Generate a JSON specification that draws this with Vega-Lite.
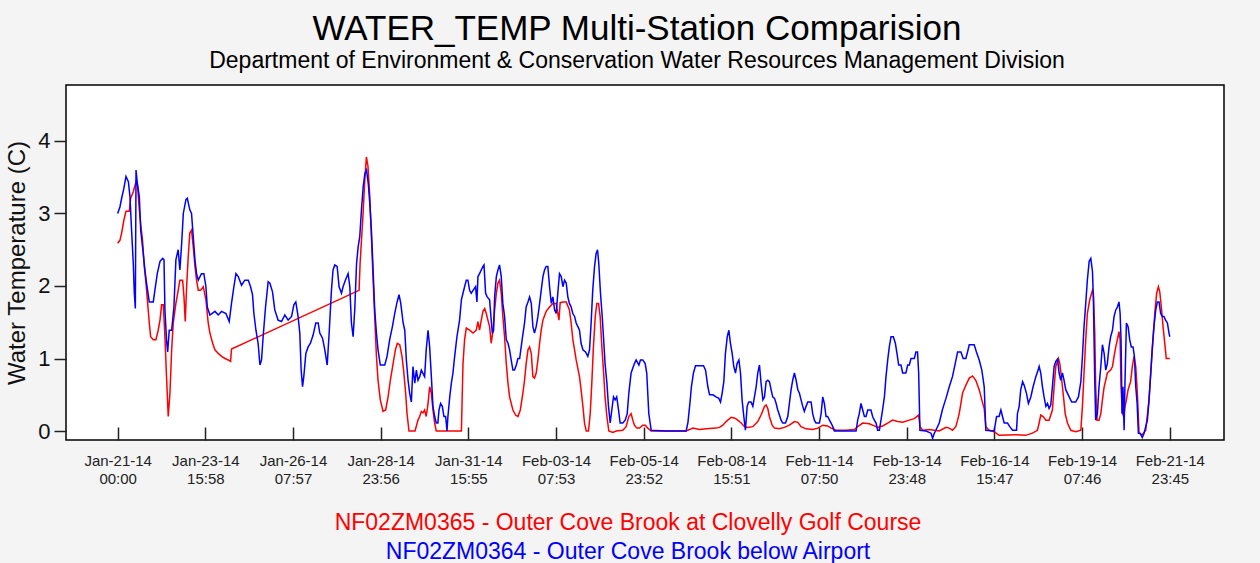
{
"$schema": "https://vega.github.io/schema/vega-lite/v6.json",
"width": 1158,
"height": 355,
"autosize": {"type": "none"},
"padding": {"left": 66, "top": 85, "right": 36, "bottom": 123},
"background": "#f4f4f4",
"title": {"text": "WATER_TEMP Multi-Station Comparision", "subtitle": "Department of Environment & Conservation Water Resources Management Division", "fontSize": 35, "subtitleFontSize": 23, "font": "Liberation Sans", "subtitleFont": "Liberation Sans", "fontWeight": "normal", "color": "#000000", "subtitleColor": "#000000", "anchor": "middle", "frame": "group", "offset": 12, "subtitlePadding": 3, "dx": -8},
"config": {"view": {"fill": "#ffffff", "stroke": "#000000", "strokeWidth": 1.5}, "font": "Liberation Sans"},
"datasets": {
"red": [
{"t":"2014-01-21T00:00Z","v":2.59},{"t":"2014-01-21T01:40Z","v":2.63},{"t":"2014-01-21T02:55Z","v":2.73},{"t":"2014-01-21T04:35Z","v":2.91},{"t":"2014-01-21T06:05Z","v":3.03},{"t":"2014-01-21T08:30Z","v":3.03},{"t":"2014-01-21T09:30Z","v":3.21},{"t":"2014-01-21T11:25Z","v":3.30},{"t":"2014-01-21T13:25Z","v":3.44},{"t":"2014-01-21T14:20Z","v":3.42},{"t":"2014-01-21T15:50Z","v":3.05},{"t":"2014-01-21T17:00Z","v":2.82},{"t":"2014-01-21T18:10Z","v":2.63},{"t":"2014-01-21T19:25Z","v":2.27},{"t":"2014-01-21T20:40Z","v":2.04},{"t":"2014-01-21T21:55Z","v":1.76},{"t":"2014-01-21T23:05Z","v":1.49},
{"t":"2014-01-22T00:05Z","v":1.30},{"t":"2014-01-22T02:00Z","v":1.26},{"t":"2014-01-22T03:55Z","v":1.26},{"t":"2014-01-22T05:35Z","v":1.39},{"t":"2014-01-22T06:55Z","v":1.53},{"t":"2014-01-22T08:05Z","v":1.74},{"t":"2014-01-22T09:20Z","v":1.74},{"t":"2014-01-22T10:30Z","v":1.30},{"t":"2014-01-22T11:40Z","v":0.75},{"t":"2014-01-22T12:55Z","v":0.20},{"t":"2014-01-22T14:10Z","v":0.52},{"t":"2014-01-22T15:25Z","v":1.12},{"t":"2014-01-22T16:35Z","v":1.49},{"t":"2014-01-22T18:30Z","v":1.76},{"t":"2014-01-22T20:10Z","v":1.94},{"t":"2014-01-22T21:25Z","v":2.08},{"t":"2014-01-22T23:25Z","v":2.08},
{"t":"2014-01-23T00:25Z","v":1.85},{"t":"2014-01-23T01:20Z","v":1.51},{"t":"2014-01-23T02:20Z","v":1.99},{"t":"2014-01-23T03:30Z","v":2.40},{"t":"2014-01-23T04:40Z","v":2.73},{"t":"2014-01-23T05:55Z","v":2.77},{"t":"2014-01-23T07:10Z","v":2.54},{"t":"2014-01-23T08:25Z","v":2.27},{"t":"2014-01-23T09:35Z","v":2.08},{"t":"2014-01-23T10:50Z","v":1.94},{"t":"2014-01-23T12:30Z","v":1.94},{"t":"2014-01-23T14:30Z","v":1.99},{"t":"2014-01-23T16:25Z","v":1.81},{"t":"2014-01-23T18:05Z","v":1.49},{"t":"2014-01-23T19:20Z","v":1.35},{"t":"2014-01-23T21:20Z","v":1.21},{"t":"2014-01-23T23:00Z","v":1.12},
{"t":"2014-01-24T01:25Z","v":1.07},{"t":"2014-01-24T03:50Z","v":1.03},{"t":"2014-01-24T06:20Z","v":1.00},{"t":"2014-01-24T08:40Z","v":0.98},{"t":"2014-01-24T10:25Z","v":0.96},{"t":"2014-01-24T11:05Z","v":1.13},
{"t":"2014-01-28T08:10Z","v":1.94},{"t":"2014-01-28T08:55Z","v":2.31},{"t":"2014-01-28T09:55Z","v":2.63},{"t":"2014-01-28T11:05Z","v":3.00},{"t":"2014-01-28T12:20Z","v":3.46},{"t":"2014-01-28T13:30Z","v":3.78},{"t":"2014-01-28T14:40Z","v":3.65},{"t":"2014-01-28T16:00Z","v":3.23},{"t":"2014-01-28T17:10Z","v":2.68},{"t":"2014-01-28T18:25Z","v":2.08},{"t":"2014-01-28T19:35Z","v":1.58},{"t":"2014-01-28T20:50Z","v":1.03},{"t":"2014-01-28T22:00Z","v":0.70},{"t":"2014-01-28T23:40Z","v":0.43},
{"t":"2014-01-29T01:40Z","v":0.27},{"t":"2014-01-29T03:35Z","v":0.29},{"t":"2014-01-29T05:20Z","v":0.47},{"t":"2014-01-29T07:00Z","v":0.70},{"t":"2014-01-29T09:00Z","v":0.93},{"t":"2014-01-29T10:40Z","v":1.12},{"t":"2014-01-29T12:05Z","v":1.21},{"t":"2014-01-29T13:50Z","v":1.19},{"t":"2014-01-29T15:30Z","v":1.03},{"t":"2014-01-29T16:40Z","v":0.84},{"t":"2014-01-29T18:10Z","v":0.52},{"t":"2014-01-29T19:10Z","v":0.24},{"t":"2014-01-29T20:35Z","v":0.0},
{"t":"2014-01-30T01:00Z","v":0.0},{"t":"2014-01-30T03:10Z","v":0.15},{"t":"2014-01-30T04:25Z","v":0.2},{"t":"2014-01-30T05:35Z","v":0.27},{"t":"2014-01-30T06:50Z","v":0.25},{"t":"2014-01-30T08:00Z","v":0.29},{"t":"2014-01-30T09:10Z","v":0.2},{"t":"2014-01-30T10:30Z","v":0.38},{"t":"2014-01-30T11:40Z","v":0.61},{"t":"2014-01-30T12:55Z","v":0.52},{"t":"2014-01-30T14:05Z","v":0.29},{"t":"2014-01-30T15:20Z","v":0.11},{"t":"2014-01-30T16:30Z","v":0.0},
{"t":"2014-01-31T10:50Z","v":0.0},{"t":"2014-01-31T12:00Z","v":0.93},{"t":"2014-01-31T13:10Z","v":1.26},{"t":"2014-01-31T14:25Z","v":1.42},{"t":"2014-01-31T16:50Z","v":1.39},{"t":"2014-01-31T19:20Z","v":1.35},{"t":"2014-01-31T21:40Z","v":1.39},{"t":"2014-01-31T22:55Z","v":1.51},
{"t":"2014-02-01T00:05Z","v":1.39},{"t":"2014-02-01T01:20Z","v":1.53},{"t":"2014-02-01T02:35Z","v":1.65},{"t":"2014-02-01T03:50Z","v":1.69},{"t":"2014-02-01T05:00Z","v":1.62},{"t":"2014-02-01T06:10Z","v":1.53},{"t":"2014-02-01T07:25Z","v":1.44},{"t":"2014-02-01T08:35Z","v":1.21},{"t":"2014-02-01T09:55Z","v":1.39},{"t":"2014-02-01T11:05Z","v":1.67},{"t":"2014-02-01T12:20Z","v":1.90},{"t":"2014-02-01T13:30Z","v":2.04},{"t":"2014-02-01T14:40Z","v":2.08},{"t":"2014-02-01T15:55Z","v":1.90},{"t":"2014-02-01T17:05Z","v":1.58},{"t":"2014-02-01T18:20Z","v":1.30},{"t":"2014-02-01T19:35Z","v":0.93},{"t":"2014-02-01T20:50Z","v":0.66},{"t":"2014-02-01T22:00Z","v":0.47},
{"t":"2014-02-02T00:25Z","v":0.29},{"t":"2014-02-02T02:25Z","v":0.22},{"t":"2014-02-02T04:05Z","v":0.2},{"t":"2014-02-02T05:50Z","v":0.29},{"t":"2014-02-02T07:40Z","v":0.52},{"t":"2014-02-02T08:55Z","v":0.70},{"t":"2014-02-02T10:05Z","v":0.93},{"t":"2014-02-02T11:25Z","v":1.12},{"t":"2014-02-02T12:35Z","v":1.16},{"t":"2014-02-02T13:50Z","v":1.07},{"t":"2014-02-02T15:00Z","v":0.75},{"t":"2014-02-02T16:10Z","v":0.73},{"t":"2014-02-02T17:25Z","v":0.8},{"t":"2014-02-02T18:40Z","v":0.98},{"t":"2014-02-02T19:55Z","v":1.21},{"t":"2014-02-02T21:05Z","v":1.39},{"t":"2014-02-02T22:20Z","v":1.53},
{"t":"2014-02-03T00:40Z","v":1.65},{"t":"2014-02-03T03:10Z","v":1.71},{"t":"2014-02-03T05:35Z","v":1.76},{"t":"2014-02-03T08:00Z","v":1.76},{"t":"2014-02-03T10:00Z","v":1.53},{"t":"2014-02-03T10:55Z","v":1.77},{"t":"2014-02-03T12:55Z","v":1.78},{"t":"2014-02-03T15:20Z","v":1.78},{"t":"2014-02-03T17:40Z","v":1.67},{"t":"2014-02-03T18:55Z","v":1.49},{"t":"2014-02-03T20:10Z","v":1.26},{"t":"2014-02-03T21:25Z","v":1.12},{"t":"2014-02-03T22:35Z","v":0.98},
{"t":"2014-02-04T01:00Z","v":0.75},{"t":"2014-02-04T02:10Z","v":0.57},{"t":"2014-02-04T03:30Z","v":0.34},{"t":"2014-02-04T04:40Z","v":0.11},{"t":"2014-02-04T05:55Z","v":0.0},{"t":"2014-02-04T07:35Z","v":0.0},{"t":"2014-02-04T08:50Z","v":0.24},{"t":"2014-02-04T10:00Z","v":0.66},{"t":"2014-02-04T11:10Z","v":1.16},{"t":"2014-02-04T12:30Z","v":1.58},{"t":"2014-02-04T13:40Z","v":1.76},{"t":"2014-02-04T14:55Z","v":1.76},{"t":"2014-02-04T16:05Z","v":1.58},{"t":"2014-02-04T17:20Z","v":1.16},{"t":"2014-02-04T18:30Z","v":0.84},{"t":"2014-02-04T19:40Z","v":0.47},{"t":"2014-02-04T21:00Z","v":0.2},{"t":"2014-02-04T22:25Z","v":0.0},
{"t":"2014-02-05T01:20Z","v":-0.02},{"t":"2014-02-05T03:50Z","v":0.0},{"t":"2014-02-05T08:35Z","v":0.01},{"t":"2014-02-05T11:00Z","v":0.06},{"t":"2014-02-05T13:00Z","v":0.2},{"t":"2014-02-05T14:40Z","v":0.24},{"t":"2014-02-05T15:55Z","v":0.15},{"t":"2014-02-05T17:05Z","v":0.08},{"t":"2014-02-05T18:50Z","v":0.04},{"t":"2014-02-05T20:50Z","v":0.04},{"t":"2014-02-05T23:10Z","v":0.08},
{"t":"2014-02-06T01:05Z","v":0.08},{"t":"2014-02-06T02:50Z","v":0.04},{"t":"2014-02-06T05:20Z","v":0.0},{"t":"2014-02-06T16:10Z","v":0.0},
{"t":"2014-02-07T06:50Z","v":0.0},{"t":"2014-02-07T09:20Z","v":0.02},{"t":"2014-02-07T11:40Z","v":0.04},{"t":"2014-02-07T16:35Z","v":0.02},{"t":"2014-02-07T21:25Z","v":0.03},
{"t":"2014-02-08T04:40Z","v":0.04},{"t":"2014-02-08T07:10Z","v":0.05},{"t":"2014-02-08T09:35Z","v":0.08},{"t":"2014-02-08T12:00Z","v":0.13},{"t":"2014-02-08T15:40Z","v":0.19},{"t":"2014-02-08T18:05Z","v":0.18},{"t":"2014-02-08T20:30Z","v":0.15},{"t":"2014-02-08T23:00Z","v":0.11},
{"t":"2014-02-09T01:25Z","v":0.06},{"t":"2014-02-09T03:50Z","v":0.05},{"t":"2014-02-09T07:30Z","v":0.06},{"t":"2014-02-09T11:05Z","v":0.13},{"t":"2014-02-09T13:30Z","v":0.22},{"t":"2014-02-09T16:00Z","v":0.34},{"t":"2014-02-09T17:10Z","v":0.36},{"t":"2014-02-09T18:25Z","v":0.31},{"t":"2014-02-09T19:35Z","v":0.2},{"t":"2014-02-09T21:35Z","v":0.08},{"t":"2014-02-09T23:20Z","v":0.04},
{"t":"2014-02-10T02:55Z","v":0.03},{"t":"2014-02-10T06:30Z","v":0.05},{"t":"2014-02-10T10:10Z","v":0.08},{"t":"2014-02-10T13:50Z","v":0.13},{"t":"2014-02-10T16:20Z","v":0.12},{"t":"2014-02-10T18:40Z","v":0.06},{"t":"2014-02-10T22:20Z","v":0.03},
{"t":"2014-02-11T03:10Z","v":0.02},{"t":"2014-02-11T06:55Z","v":0.04},{"t":"2014-02-11T10:30Z","v":0.08},{"t":"2014-02-11T14:05Z","v":0.07},{"t":"2014-02-11T16:35Z","v":0.04},{"t":"2014-02-11T20:10Z","v":0.01},
{"t":"2014-02-12T03:30Z","v":0.01},{"t":"2014-02-12T09:35Z","v":0.02},{"t":"2014-02-12T12:00Z","v":0.06},{"t":"2014-02-12T15:40Z","v":0.11},{"t":"2014-02-12T20:30Z","v":0.1},
{"t":"2014-02-13T00:10Z","v":0.07},{"t":"2014-02-13T02:35Z","v":0.05},{"t":"2014-02-13T06:10Z","v":0.07},{"t":"2014-02-13T09:55Z","v":0.11},{"t":"2014-02-13T13:30Z","v":0.15},{"t":"2014-02-13T17:10Z","v":0.13},{"t":"2014-02-13T20:50Z","v":0.12},
{"t":"2014-02-14T01:40Z","v":0.15},{"t":"2014-02-14T05:20Z","v":0.17},{"t":"2014-02-14T08:30Z","v":0.22},{"t":"2014-02-14T09:30Z","v":0.06},{"t":"2014-02-14T11:25Z","v":0.01},{"t":"2014-02-14T16:20Z","v":0.02},{"t":"2014-02-14T23:30Z","v":0.0},
{"t":"2014-02-15T04:25Z","v":0.05},{"t":"2014-02-15T06:50Z","v":0.04},{"t":"2014-02-15T09:10Z","v":0.01},{"t":"2014-02-15T11:35Z","v":0.06},{"t":"2014-02-15T12:55Z","v":0.15},{"t":"2014-02-15T14:05Z","v":0.24},{"t":"2014-02-15T15:20Z","v":0.38},{"t":"2014-02-15T16:30Z","v":0.52},{"t":"2014-02-15T18:55Z","v":0.63},{"t":"2014-02-15T21:25Z","v":0.73},{"t":"2014-02-15T23:50Z","v":0.76},
{"t":"2014-02-16T02:10Z","v":0.70},{"t":"2014-02-16T04:40Z","v":0.57},{"t":"2014-02-16T06:35Z","v":0.43},{"t":"2014-02-16T08:20Z","v":0.31},{"t":"2014-02-16T09:30Z","v":0.06},{"t":"2014-02-16T11:55Z","v":0.01},{"t":"2014-02-16T15:35Z","v":-0.01},{"t":"2014-02-16T19:10Z","v":-0.06},
{"t":"2014-02-17T07:25Z","v":-0.05},{"t":"2014-02-17T14:40Z","v":-0.06},{"t":"2014-02-17T19:30Z","v":-0.03},{"t":"2014-02-17T23:10Z","v":0.01},
{"t":"2014-02-18T00:25Z","v":0.11},{"t":"2014-02-18T01:35Z","v":0.22},{"t":"2014-02-18T03:20Z","v":0.2},{"t":"2014-02-18T05:20Z","v":0.15},{"t":"2014-02-18T07:40Z","v":0.15},{"t":"2014-02-18T10:05Z","v":0.29},{"t":"2014-02-18T11:20Z","v":0.61},{"t":"2014-02-18T12:35Z","v":0.89},{"t":"2014-02-18T14:30Z","v":1.0},{"t":"2014-02-18T15:30Z","v":0.93},{"t":"2014-02-18T16:55Z","v":0.70},{"t":"2014-02-18T17:55Z","v":0.52},{"t":"2014-02-18T19:25Z","v":0.24},{"t":"2014-02-18T21:05Z","v":0.11},{"t":"2014-02-18T23:30Z","v":0.01},
{"t":"2014-02-19T03:05Z","v":-0.01},{"t":"2014-02-19T06:50Z","v":0.01},{"t":"2014-02-19T08:00Z","v":0.34},{"t":"2014-02-19T09:10Z","v":0.80},{"t":"2014-02-19T10:25Z","v":1.26},{"t":"2014-02-19T11:35Z","v":1.62},{"t":"2014-02-19T13:20Z","v":1.81},{"t":"2014-02-19T15:20Z","v":1.94},{"t":"2014-02-19T16:00Z","v":1.9},{"t":"2014-02-19T17:00Z","v":1.35},{"t":"2014-02-19T17:40Z","v":0.61},{"t":"2014-02-19T18:40Z","v":0.15},{"t":"2014-02-19T20:05Z","v":0.15},{"t":"2014-02-19T21:25Z","v":0.24},{"t":"2014-02-19T22:35Z","v":0.43},{"t":"2014-02-19T23:50Z","v":0.61},
{"t":"2014-02-20T01:00Z","v":0.70},{"t":"2014-02-20T02:10Z","v":0.80},{"t":"2014-02-20T04:35Z","v":0.84},{"t":"2014-02-20T05:55Z","v":0.89},{"t":"2014-02-20T07:05Z","v":1.03},{"t":"2014-02-20T08:20Z","v":1.16},{"t":"2014-02-20T09:30Z","v":1.26},{"t":"2014-02-20T10:40Z","v":1.37},{"t":"2014-02-20T11:30Z","v":1.26},{"t":"2014-02-20T12:10Z","v":0.61},{"t":"2014-02-20T13:10Z","v":0.24},{"t":"2014-02-20T14:05Z","v":0.2},{"t":"2014-02-20T15:05Z","v":0.34},{"t":"2014-02-20T16:05Z","v":0.43},{"t":"2014-02-20T17:20Z","v":0.57},{"t":"2014-02-20T19:10Z","v":0.68},{"t":"2014-02-20T20:25Z","v":0.89},{"t":"2014-02-20T21:40Z","v":1.03},{"t":"2014-02-20T22:55Z","v":0.89},
{"t":"2014-02-21T00:05Z","v":0.52},{"t":"2014-02-21T01:20Z","v":-0.03},{"t":"2014-02-21T03:40Z","v":-0.05},{"t":"2014-02-21T06:10Z","v":0.01},{"t":"2014-02-21T08:35Z","v":0.43},{"t":"2014-02-21T10:30Z","v":0.98},{"t":"2014-02-21T11:50Z","v":1.35},{"t":"2014-02-21T13:00Z","v":1.67},{"t":"2014-02-21T14:10Z","v":1.90},{"t":"2014-02-21T15:25Z","v":1.99},{"t":"2014-02-21T16:25Z","v":1.92},{"t":"2014-02-21T17:35Z","v":1.71},{"t":"2014-02-21T18:50Z","v":1.44},{"t":"2014-02-21T20:20Z","v":1.16},{"t":"2014-02-21T21:10Z","v":1.0},{"t":"2014-02-21T23:45Z","v":1.0}
],
"blue": [
{"t":"2014-01-21T00:00Z","v":3.0},{"t":"2014-01-21T01:40Z","v":3.09},{"t":"2014-01-21T02:55Z","v":3.21},{"t":"2014-01-21T04:35Z","v":3.35},{"t":"2014-01-21T06:05Z","v":3.51},{"t":"2014-01-21T07:50Z","v":3.44},{"t":"2014-01-21T09:00Z","v":3.23},{"t":"2014-01-21T10:10Z","v":2.77},{"t":"2014-01-21T11:25Z","v":2.31},{"t":"2014-01-21T12:10Z","v":1.90},{"t":"2014-01-21T12:55Z","v":1.69},{"t":"2014-01-21T13:25Z","v":3.6},{"t":"2014-01-21T14:20Z","v":3.42},{"t":"2014-01-21T15:50Z","v":3.23},{"t":"2014-01-21T16:50Z","v":2.77},{"t":"2014-01-21T18:10Z","v":2.54},{"t":"2014-01-21T19:55Z","v":2.22},{"t":"2014-01-21T21:05Z","v":2.04},{"t":"2014-01-21T23:05Z","v":1.78},
{"t":"2014-01-22T02:00Z","v":1.78},{"t":"2014-01-22T03:10Z","v":1.94},{"t":"2014-01-22T04:55Z","v":2.17},{"t":"2014-01-22T06:55Z","v":2.34},{"t":"2014-01-22T08:50Z","v":2.38},{"t":"2014-01-22T09:50Z","v":2.36},{"t":"2014-01-22T10:30Z","v":1.67},{"t":"2014-01-22T11:40Z","v":1.26},{"t":"2014-01-22T12:30Z","v":1.09},{"t":"2014-01-22T13:40Z","v":1.39},{"t":"2014-01-22T15:25Z","v":1.39},{"t":"2014-01-22T17:05Z","v":1.71},{"t":"2014-01-22T18:30Z","v":2.36},{"t":"2014-01-22T20:10Z","v":2.5},{"t":"2014-01-22T21:25Z","v":2.22},{"t":"2014-01-22T22:40Z","v":2.57},{"t":"2014-01-22T23:55Z","v":3.0},
{"t":"2014-01-23T01:50Z","v":3.19},{"t":"2014-01-23T02:50Z","v":3.21},{"t":"2014-01-23T04:40Z","v":3.05},{"t":"2014-01-23T05:55Z","v":3.0},{"t":"2014-01-23T07:10Z","v":2.68},{"t":"2014-01-23T08:25Z","v":2.36},{"t":"2014-01-23T09:35Z","v":2.17},{"t":"2014-01-23T10:50Z","v":2.08},{"t":"2014-01-23T13:10Z","v":2.17},{"t":"2014-01-23T14:55Z","v":2.17},{"t":"2014-01-23T16:25Z","v":1.99},{"t":"2014-01-23T17:25Z","v":1.71},{"t":"2014-01-23T19:20Z","v":1.6},{"t":"2014-01-23T23:00Z","v":1.65},
{"t":"2014-01-24T01:25Z","v":1.6},{"t":"2014-01-24T03:50Z","v":1.65},{"t":"2014-01-24T07:00Z","v":1.62},{"t":"2014-01-24T09:25Z","v":1.51},{"t":"2014-01-24T11:05Z","v":1.76},{"t":"2014-01-24T12:50Z","v":1.99},{"t":"2014-01-24T14:20Z","v":2.17},{"t":"2014-01-24T16:00Z","v":2.13},{"t":"2014-01-24T18:25Z","v":2.01},{"t":"2014-01-24T20:50Z","v":2.08},{"t":"2014-01-24T23:20Z","v":2.08},
{"t":"2014-01-25T01:00Z","v":1.99},{"t":"2014-01-25T02:25Z","v":1.88},{"t":"2014-01-25T03:25Z","v":1.62},{"t":"2014-01-25T04:55Z","v":1.39},{"t":"2014-01-25T06:30Z","v":1.21},{"t":"2014-01-25T07:50Z","v":0.91},{"t":"2014-01-25T09:00Z","v":0.98},{"t":"2014-01-25T10:10Z","v":1.30},{"t":"2014-01-25T11:55Z","v":1.71},{"t":"2014-01-25T13:50Z","v":2.06},{"t":"2014-01-25T15:05Z","v":2.04},{"t":"2014-01-25T17:00Z","v":1.92},{"t":"2014-01-25T18:40Z","v":1.67},{"t":"2014-01-25T21:05Z","v":1.53},{"t":"2014-01-25T23:35Z","v":1.51},
{"t":"2014-01-26T02:00Z","v":1.6},{"t":"2014-01-26T04:25Z","v":1.53},{"t":"2014-01-26T06:55Z","v":1.58},{"t":"2014-01-26T08:35Z","v":1.74},{"t":"2014-01-26T10:00Z","v":1.78},{"t":"2014-01-26T11:40Z","v":1.58},{"t":"2014-01-26T12:55Z","v":1.35},{"t":"2014-01-26T13:55Z","v":0.84},{"t":"2014-01-26T14:55Z","v":0.61},{"t":"2014-01-26T15:50Z","v":0.75},{"t":"2014-01-26T17:20Z","v":1.07},{"t":"2014-01-26T19:00Z","v":1.16},{"t":"2014-01-26T20:40Z","v":1.21},{"t":"2014-01-26T22:35Z","v":1.32},
{"t":"2014-01-27T00:35Z","v":1.49},{"t":"2014-01-27T02:20Z","v":1.49},{"t":"2014-01-27T03:30Z","v":1.35},{"t":"2014-01-27T05:30Z","v":1.28},{"t":"2014-01-27T07:10Z","v":1.12},{"t":"2014-01-27T08:55Z","v":0.91},{"t":"2014-01-27T10:20Z","v":1.35},{"t":"2014-01-27T12:00Z","v":1.94},{"t":"2014-01-27T13:10Z","v":2.22},{"t":"2014-01-27T14:25Z","v":2.29},{"t":"2014-01-27T16:10Z","v":2.27},{"t":"2014-01-27T17:35Z","v":1.99},{"t":"2014-01-27T19:20Z","v":1.90},{"t":"2014-01-27T20:30Z","v":1.99},{"t":"2014-01-27T22:10Z","v":2.08},
{"t":"2014-01-28T00:10Z","v":2.17},{"t":"2014-01-28T01:25Z","v":1.99},{"t":"2014-01-28T02:35Z","v":1.49},{"t":"2014-01-28T03:50Z","v":1.30},{"t":"2014-01-28T05:00Z","v":1.67},{"t":"2014-01-28T06:20Z","v":2.31},{"t":"2014-01-28T07:30Z","v":2.54},{"t":"2014-01-28T08:40Z","v":2.68},{"t":"2014-01-28T09:55Z","v":3.05},{"t":"2014-01-28T11:10Z","v":3.37},{"t":"2014-01-28T12:25Z","v":3.55},{"t":"2014-01-28T13:35Z","v":3.6},{"t":"2014-01-28T14:50Z","v":3.42},{"t":"2014-01-28T16:00Z","v":3.14},{"t":"2014-01-28T17:10Z","v":2.77},{"t":"2014-01-28T18:25Z","v":2.22},{"t":"2014-01-28T19:35Z","v":1.67},{"t":"2014-01-28T20:50Z","v":1.35},{"t":"2014-01-28T22:00Z","v":1.12},{"t":"2014-01-28T23:40Z","v":0.91},
{"t":"2014-01-29T02:55Z","v":0.91},{"t":"2014-01-29T04:35Z","v":1.03},{"t":"2014-01-29T06:30Z","v":1.26},{"t":"2014-01-29T08:30Z","v":1.44},{"t":"2014-01-29T10:10Z","v":1.62},{"t":"2014-01-29T11:55Z","v":1.78},{"t":"2014-01-29T13:20Z","v":1.88},{"t":"2014-01-29T14:35Z","v":1.76},{"t":"2014-01-29T16:20Z","v":1.49},{"t":"2014-01-29T17:30Z","v":1.39},{"t":"2014-01-29T18:40Z","v":0.98},{"t":"2014-01-29T19:55Z","v":0.70},{"t":"2014-01-29T21:05Z","v":0.52},{"t":"2014-01-29T22:20Z","v":0.40},{"t":"2014-01-29T23:30Z","v":0.89},
{"t":"2014-01-30T00:50Z","v":0.66},{"t":"2014-01-30T02:00Z","v":0.84},{"t":"2014-01-30T03:10Z","v":0.70},{"t":"2014-01-30T04:25Z","v":0.75},{"t":"2014-01-30T05:35Z","v":0.84},{"t":"2014-01-30T08:00Z","v":0.75},{"t":"2014-01-30T09:10Z","v":1.12},{"t":"2014-01-30T10:30Z","v":1.39},{"t":"2014-01-30T11:40Z","v":1.16},{"t":"2014-01-30T12:55Z","v":0.75},{"t":"2014-01-30T14:05Z","v":0.34},{"t":"2014-01-30T15:20Z","v":0.2},{"t":"2014-01-30T16:30Z","v":0.11},{"t":"2014-01-30T17:40Z","v":0.11},{"t":"2014-01-30T18:30Z","v":0.29},{"t":"2014-01-30T19:40Z","v":0.38},{"t":"2014-01-30T20:55Z","v":0.34},{"t":"2014-01-30T22:05Z","v":0.2},{"t":"2014-01-30T23:20Z","v":0.2},
{"t":"2014-01-31T00:20Z","v":0.0},{"t":"2014-01-31T01:00Z","v":0.2},{"t":"2014-01-31T02:20Z","v":0.47},{"t":"2014-01-31T03:30Z","v":0.66},{"t":"2014-01-31T04:40Z","v":0.8},{"t":"2014-01-31T05:55Z","v":1.03},{"t":"2014-01-31T07:35Z","v":1.3},{"t":"2014-01-31T09:30Z","v":1.53},{"t":"2014-01-31T10:50Z","v":1.81},{"t":"2014-01-31T12:00Z","v":1.90},{"t":"2014-01-31T13:10Z","v":1.99},{"t":"2014-01-31T14:25Z","v":2.08},{"t":"2014-01-31T15:35Z","v":2.08},{"t":"2014-01-31T16:50Z","v":1.94},{"t":"2014-01-31T18:00Z","v":1.90},{"t":"2014-01-31T19:20Z","v":1.94},{"t":"2014-01-31T21:10Z","v":1.99},{"t":"2014-01-31T22:10Z","v":1.78},{"t":"2014-01-31T22:55Z","v":2.13},
{"t":"2014-02-01T00:05Z","v":2.17},{"t":"2014-02-01T01:20Z","v":2.22},{"t":"2014-02-01T02:35Z","v":2.27},{"t":"2014-02-01T03:20Z","v":2.29},{"t":"2014-02-01T04:30Z","v":1.90},{"t":"2014-02-01T05:40Z","v":1.85},{"t":"2014-02-01T07:25Z","v":1.81},{"t":"2014-02-01T08:35Z","v":1.53},{"t":"2014-02-01T09:25Z","v":1.35},{"t":"2014-02-01T10:20Z","v":1.39},{"t":"2014-02-01T11:05Z","v":1.85},{"t":"2014-02-01T12:20Z","v":2.13},{"t":"2014-02-01T13:30Z","v":2.22},{"t":"2014-02-01T14:40Z","v":2.29},{"t":"2014-02-01T15:55Z","v":2.13},{"t":"2014-02-01T17:05Z","v":1.76},{"t":"2014-02-01T18:20Z","v":1.58},{"t":"2014-02-01T19:35Z","v":1.26},{"t":"2014-02-01T20:50Z","v":1.21},{"t":"2014-02-01T22:00Z","v":1.12},{"t":"2014-02-01T23:10Z","v":0.98},
{"t":"2014-02-02T00:25Z","v":0.84},{"t":"2014-02-02T01:35Z","v":0.84},{"t":"2014-02-02T02:55Z","v":0.91},{"t":"2014-02-02T04:05Z","v":1.0},{"t":"2014-02-02T05:20Z","v":1.0},{"t":"2014-02-02T07:10Z","v":1.26},{"t":"2014-02-02T08:55Z","v":1.49},{"t":"2014-02-02T10:05Z","v":1.71},{"t":"2014-02-02T11:25Z","v":1.78},{"t":"2014-02-02T12:35Z","v":1.85},{"t":"2014-02-02T13:50Z","v":1.76},{"t":"2014-02-02T15:00Z","v":1.44},{"t":"2014-02-02T16:10Z","v":1.35},{"t":"2014-02-02T17:25Z","v":1.44},{"t":"2014-02-02T18:40Z","v":1.58},{"t":"2014-02-02T19:55Z","v":1.76},{"t":"2014-02-02T21:05Z","v":1.94},{"t":"2014-02-02T22:20Z","v":2.13},{"t":"2014-02-02T23:30Z","v":2.22},
{"t":"2014-02-03T00:40Z","v":2.27},{"t":"2014-02-03T01:55Z","v":2.27},{"t":"2014-02-03T03:10Z","v":1.99},{"t":"2014-02-03T04:25Z","v":1.76},{"t":"2014-02-03T05:35Z","v":1.85},{"t":"2014-02-03T06:50Z","v":1.67},{"t":"2014-02-03T08:00Z","v":1.62},{"t":"2014-02-03T09:10Z","v":1.90},{"t":"2014-02-03T10:25Z","v":2.17},{"t":"2014-02-03T11:40Z","v":2.13},{"t":"2014-02-03T12:55Z","v":1.99},{"t":"2014-02-03T14:05Z","v":2.08},{"t":"2014-02-03T15:20Z","v":2.04},{"t":"2014-02-03T16:30Z","v":1.85},{"t":"2014-02-03T17:40Z","v":1.76},{"t":"2014-02-03T18:55Z","v":1.71},{"t":"2014-02-03T20:10Z","v":1.62},{"t":"2014-02-03T21:25Z","v":1.58},{"t":"2014-02-03T22:35Z","v":1.49},{"t":"2014-02-03T23:50Z","v":1.44},
{"t":"2014-02-04T01:00Z","v":1.39},{"t":"2014-02-04T02:10Z","v":1.21},{"t":"2014-02-04T03:30Z","v":1.12},{"t":"2014-02-04T05:25Z","v":1.09},{"t":"2014-02-04T07:05Z","v":1.03},{"t":"2014-02-04T08:20Z","v":1.12},{"t":"2014-02-04T09:30Z","v":1.49},{"t":"2014-02-04T10:40Z","v":1.94},{"t":"2014-02-04T12:00Z","v":2.27},{"t":"2014-02-04T13:10Z","v":2.45},{"t":"2014-02-04T14:10Z","v":2.5},{"t":"2014-02-04T15:05Z","v":2.31},{"t":"2014-02-04T16:20Z","v":1.90},{"t":"2014-02-04T17:35Z","v":1.58},{"t":"2014-02-04T18:30Z","v":1.30},{"t":"2014-02-04T19:40Z","v":0.93},{"t":"2014-02-04T21:00Z","v":0.66},{"t":"2014-02-04T22:10Z","v":0.34},{"t":"2014-02-04T23:25Z","v":0.11},
{"t":"2014-02-05T00:35Z","v":0.29},{"t":"2014-02-05T01:50Z","v":0.47},{"t":"2014-02-05T03:00Z","v":0.43},{"t":"2014-02-05T04:10Z","v":0.47},{"t":"2014-02-05T05:30Z","v":0.29},{"t":"2014-02-05T06:40Z","v":0.11},{"t":"2014-02-05T08:35Z","v":0.11},{"t":"2014-02-05T10:20Z","v":0.15},{"t":"2014-02-05T11:50Z","v":0.24},{"t":"2014-02-05T13:00Z","v":0.52},{"t":"2014-02-05T14:40Z","v":0.8},{"t":"2014-02-05T17:05Z","v":0.93},{"t":"2014-02-05T18:20Z","v":0.98},{"t":"2014-02-05T20:20Z","v":0.91},{"t":"2014-02-05T21:30Z","v":0.98},{"t":"2014-02-05T23:10Z","v":0.98},
{"t":"2014-02-06T00:55Z","v":0.93},{"t":"2014-02-06T02:05Z","v":0.8},{"t":"2014-02-06T03:35Z","v":0.24},{"t":"2014-02-06T05:20Z","v":0.01},{"t":"2014-02-06T16:10Z","v":0.0},
{"t":"2014-02-07T06:50Z","v":0.0},{"t":"2014-02-07T08:10Z","v":0.12},{"t":"2014-02-07T09:50Z","v":0.43},{"t":"2014-02-07T10:40Z","v":0.61},{"t":"2014-02-07T12:10Z","v":0.80},{"t":"2014-02-07T13:40Z","v":0.90},{"t":"2014-02-07T16:35Z","v":0.90},{"t":"2014-02-07T19:30Z","v":0.90},{"t":"2014-02-07T21:00Z","v":0.84},{"t":"2014-02-07T22:40Z","v":0.61},{"t":"2014-02-07T23:55Z","v":0.50},
{"t":"2014-02-08T02:20Z","v":0.50},{"t":"2014-02-08T04:40Z","v":0.47},{"t":"2014-02-08T06:40Z","v":0.45},{"t":"2014-02-08T07:55Z","v":0.40},{"t":"2014-02-08T09:05Z","v":0.52},{"t":"2014-02-08T10:20Z","v":0.68},{"t":"2014-02-08T11:30Z","v":1.07},{"t":"2014-02-08T12:50Z","v":1.30},{"t":"2014-02-08T14:00Z","v":1.39},{"t":"2014-02-08T15:10Z","v":1.21},{"t":"2014-02-08T16:25Z","v":1.07},{"t":"2014-02-08T17:35Z","v":0.89},{"t":"2014-02-08T18:50Z","v":0.80},{"t":"2014-02-08T20:00Z","v":0.93},{"t":"2014-02-08T21:20Z","v":0.98},{"t":"2014-02-08T22:30Z","v":0.80},{"t":"2014-02-08T23:40Z","v":0.43},
{"t":"2014-02-09T00:55Z","v":0.20},{"t":"2014-02-09T02:05Z","v":0.01},{"t":"2014-02-09T03:20Z","v":0.34},{"t":"2014-02-09T04:30Z","v":0.40},{"t":"2014-02-09T06:10Z","v":0.40},{"t":"2014-02-09T07:30Z","v":0.34},{"t":"2014-02-09T08:40Z","v":0.47},{"t":"2014-02-09T09:55Z","v":0.61},{"t":"2014-02-09T11:05Z","v":0.80},{"t":"2014-02-09T12:20Z","v":0.91},{"t":"2014-02-09T13:30Z","v":0.66},{"t":"2014-02-09T14:50Z","v":0.43},{"t":"2014-02-09T16:00Z","v":0.47},{"t":"2014-02-09T17:10Z","v":0.68},{"t":"2014-02-09T18:25Z","v":0.70},{"t":"2014-02-09T19:35Z","v":0.68},{"t":"2014-02-09T20:50Z","v":0.57},{"t":"2014-02-09T22:00Z","v":0.47},{"t":"2014-02-09T23:20Z","v":0.45},
{"t":"2014-02-10T00:30Z","v":0.38},{"t":"2014-02-10T01:40Z","v":0.29},{"t":"2014-02-10T02:55Z","v":0.22},{"t":"2014-02-10T04:05Z","v":0.15},{"t":"2014-02-10T05:20Z","v":0.11},{"t":"2014-02-10T07:20Z","v":0.11},{"t":"2014-02-10T09:00Z","v":0.2},{"t":"2014-02-10T10:10Z","v":0.38},{"t":"2014-02-10T11:25Z","v":0.57},{"t":"2014-02-10T12:35Z","v":0.70},{"t":"2014-02-10T13:50Z","v":0.80},{"t":"2014-02-10T15:05Z","v":0.70},{"t":"2014-02-10T16:20Z","v":0.57},{"t":"2014-02-10T17:30Z","v":0.52},{"t":"2014-02-10T18:40Z","v":0.43},{"t":"2014-02-10T19:55Z","v":0.34},{"t":"2014-02-10T21:05Z","v":0.27},{"t":"2014-02-10T22:20Z","v":0.34},{"t":"2014-02-10T23:35Z","v":0.40},
{"t":"2014-02-11T02:00Z","v":0.40},{"t":"2014-02-11T03:10Z","v":0.24},{"t":"2014-02-11T04:25Z","v":0.15},{"t":"2014-02-11T05:35Z","v":0.11},{"t":"2014-02-11T08:05Z","v":0.11},{"t":"2014-02-11T09:20Z","v":0.24},{"t":"2014-02-11T10:30Z","v":0.47},{"t":"2014-02-11T11:40Z","v":0.38},{"t":"2014-02-11T12:55Z","v":0.2},{"t":"2014-02-11T14:05Z","v":0.2},{"t":"2014-02-11T15:25Z","v":0.15},{"t":"2014-02-11T16:35Z","v":0.11},{"t":"2014-02-11T17:50Z","v":0.06},{"t":"2014-02-11T19:00Z","v":0.0},
{"t":"2014-02-12T10:50Z","v":0.0},{"t":"2014-02-12T12:00Z","v":0.15},{"t":"2014-02-12T13:10Z","v":0.24},{"t":"2014-02-12T14:25Z","v":0.38},{"t":"2014-02-12T15:40Z","v":0.29},{"t":"2014-02-12T16:55Z","v":0.2},{"t":"2014-02-12T18:05Z","v":0.2},{"t":"2014-02-12T19:20Z","v":0.29},{"t":"2014-02-12T21:40Z","v":0.29},{"t":"2014-02-12T22:55Z","v":0.2},
{"t":"2014-02-13T00:10Z","v":0.15},{"t":"2014-02-13T01:25Z","v":0.11},{"t":"2014-02-13T02:35Z","v":0.01},{"t":"2014-02-13T03:50Z","v":0.01},{"t":"2014-02-13T05:00Z","v":0.15},{"t":"2014-02-13T06:10Z","v":0.29},{"t":"2014-02-13T07:30Z","v":0.47},{"t":"2014-02-13T08:40Z","v":0.75},{"t":"2014-02-13T09:55Z","v":0.98},{"t":"2014-02-13T11:05Z","v":1.16},{"t":"2014-02-13T12:20Z","v":1.30},{"t":"2014-02-13T14:00Z","v":1.30},{"t":"2014-02-13T15:30Z","v":1.21},{"t":"2014-02-13T16:40Z","v":1.07},{"t":"2014-02-13T17:55Z","v":0.91},{"t":"2014-02-13T19:35Z","v":0.91},{"t":"2014-02-13T20:50Z","v":0.80},{"t":"2014-02-13T23:10Z","v":0.80},
{"t":"2014-02-14T00:30Z","v":0.91},{"t":"2014-02-14T01:40Z","v":0.91},{"t":"2014-02-14T02:55Z","v":1.0},{"t":"2014-02-14T05:20Z","v":1.0},{"t":"2014-02-14T06:30Z","v":1.09},{"t":"2014-02-14T07:40Z","v":1.09},{"t":"2014-02-14T08:30Z","v":0.80},{"t":"2014-02-14T09:25Z","v":0.01},{"t":"2014-02-14T13:50Z","v":0.0},{"t":"2014-02-14T17:30Z","v":-0.03},{"t":"2014-02-14T18:40Z","v":-0.1},{"t":"2014-02-14T19:55Z","v":-0.03},{"t":"2014-02-14T21:05Z","v":0.01},{"t":"2014-02-14T23:30Z","v":0.11},
{"t":"2014-02-15T01:55Z","v":0.3},{"t":"2014-02-15T04:25Z","v":0.45},{"t":"2014-02-15T06:50Z","v":0.61},{"t":"2014-02-15T09:10Z","v":0.75},{"t":"2014-02-15T11:10Z","v":0.93},{"t":"2014-02-15T12:55Z","v":1.09},{"t":"2014-02-15T15:20Z","v":1.09},{"t":"2014-02-15T17:00Z","v":1.0},{"t":"2014-02-15T18:55Z","v":1.0},{"t":"2014-02-15T20:10Z","v":1.09},{"t":"2014-02-15T21:25Z","v":1.19},
{"t":"2014-02-16T01:00Z","v":1.19},{"t":"2014-02-16T02:40Z","v":1.09},{"t":"2014-02-16T04:40Z","v":0.98},{"t":"2014-02-16T06:35Z","v":0.84},{"t":"2014-02-16T08:20Z","v":0.61},{"t":"2014-02-16T09:30Z","v":0.01},{"t":"2014-02-16T15:35Z","v":0.0},{"t":"2014-02-16T17:20Z","v":0.2},{"t":"2014-02-16T19:10Z","v":0.2},{"t":"2014-02-16T20:30Z","v":0.29},{"t":"2014-02-16T21:40Z","v":0.2},{"t":"2014-02-16T22:55Z","v":0.11},
{"t":"2014-02-17T01:20Z","v":0.11},{"t":"2014-02-17T03:00Z","v":0.06},{"t":"2014-02-17T05:00Z","v":0.01},{"t":"2014-02-17T07:55Z","v":0.01},{"t":"2014-02-17T08:35Z","v":0.24},{"t":"2014-02-17T09:50Z","v":0.34},{"t":"2014-02-17T11:00Z","v":0.57},{"t":"2014-02-17T12:20Z","v":0.68},{"t":"2014-02-17T13:30Z","v":0.63},{"t":"2014-02-17T15:10Z","v":0.52},{"t":"2014-02-17T16:35Z","v":0.38},{"t":"2014-02-17T18:20Z","v":0.47},{"t":"2014-02-17T20:00Z","v":0.61},{"t":"2014-02-17T22:00Z","v":0.75},{"t":"2014-02-17T23:40Z","v":0.84},
{"t":"2014-02-18T00:25Z","v":0.89},{"t":"2014-02-18T01:35Z","v":0.80},{"t":"2014-02-18T02:50Z","v":0.61},{"t":"2014-02-18T04:00Z","v":0.47},{"t":"2014-02-18T05:20Z","v":0.34},{"t":"2014-02-18T06:30Z","v":0.38},{"t":"2014-02-18T07:40Z","v":0.31},{"t":"2014-02-18T08:55Z","v":0.36},{"t":"2014-02-18T10:05Z","v":0.61},{"t":"2014-02-18T11:20Z","v":0.89},{"t":"2014-02-18T12:35Z","v":0.96},{"t":"2014-02-18T13:50Z","v":0.99},{"t":"2014-02-18T15:00Z","v":0.8},{"t":"2014-02-18T16:10Z","v":0.70},{"t":"2014-02-18T17:25Z","v":0.80},{"t":"2014-02-18T18:35Z","v":0.70},{"t":"2014-02-18T19:50Z","v":0.57},{"t":"2014-02-18T22:20Z","v":0.47},
{"t":"2014-02-19T00:10Z","v":0.40},{"t":"2014-02-19T03:05Z","v":0.40},{"t":"2014-02-19T05:05Z","v":0.47},{"t":"2014-02-19T06:50Z","v":0.68},{"t":"2014-02-19T08:00Z","v":1.03},{"t":"2014-02-19T09:10Z","v":1.44},{"t":"2014-02-19T10:25Z","v":1.76},{"t":"2014-02-19T11:35Z","v":2.08},{"t":"2014-02-19T12:55Z","v":2.34},{"t":"2014-02-19T14:05Z","v":2.38},{"t":"2014-02-19T15:20Z","v":2.20},{"t":"2014-02-19T16:00Z","v":1.81},{"t":"2014-02-19T17:00Z","v":0.70},{"t":"2014-02-19T17:40Z","v":0.15},{"t":"2014-02-19T18:55Z","v":0.24},{"t":"2014-02-19T20:05Z","v":0.61},{"t":"2014-02-19T21:25Z","v":0.89},{"t":"2014-02-19T22:35Z","v":1.19},{"t":"2014-02-19T23:50Z","v":1.07},
{"t":"2014-02-20T01:00Z","v":0.84},{"t":"2014-02-20T02:10Z","v":0.93},{"t":"2014-02-20T03:25Z","v":1.16},{"t":"2014-02-20T04:35Z","v":1.30},{"t":"2014-02-20T05:55Z","v":1.39},{"t":"2014-02-20T07:05Z","v":1.58},{"t":"2014-02-20T08:20Z","v":1.67},{"t":"2014-02-20T09:30Z","v":1.71},{"t":"2014-02-20T10:40Z","v":1.78},{"t":"2014-02-20T11:30Z","v":1.62},{"t":"2014-02-20T12:10Z","v":1.26},{"t":"2014-02-20T12:55Z","v":0.24},{"t":"2014-02-20T13:35Z","v":0.61},{"t":"2014-02-20T14:25Z","v":0.01},{"t":"2014-02-20T15:05Z","v":0.70},{"t":"2014-02-20T16:05Z","v":1.49},{"t":"2014-02-20T17:20Z","v":1.44},{"t":"2014-02-20T18:30Z","v":1.26},{"t":"2014-02-20T19:40Z","v":1.16},{"t":"2014-02-20T20:55Z","v":1.16},{"t":"2014-02-20T21:55Z","v":1.03},{"t":"2014-02-20T22:55Z","v":0.61},{"t":"2014-02-20T23:55Z","v":0.38},
{"t":"2014-02-21T00:50Z","v":-0.03},{"t":"2014-02-21T02:00Z","v":-0.03},{"t":"2014-02-21T03:40Z","v":-0.09},{"t":"2014-02-21T05:00Z","v":-0.03},{"t":"2014-02-21T06:10Z","v":0.06},{"t":"2014-02-21T07:25Z","v":0.15},{"t":"2014-02-21T08:35Z","v":0.43},{"t":"2014-02-21T09:50Z","v":0.80},{"t":"2014-02-21T11:00Z","v":1.16},{"t":"2014-02-21T12:10Z","v":1.44},{"t":"2014-02-21T13:30Z","v":1.67},{"t":"2014-02-21T14:40Z","v":1.78},{"t":"2014-02-21T15:55Z","v":1.78},{"t":"2014-02-21T17:05Z","v":1.62},{"t":"2014-02-21T18:20Z","v":1.58},{"t":"2014-02-21T19:30Z","v":1.58},{"t":"2014-02-21T20:40Z","v":1.53},{"t":"2014-02-21T22:00Z","v":1.49},{"t":"2014-02-21T23:10Z","v":1.35},{"t":"2014-02-21T23:45Z","v":1.30}
]
},
"layer": [
{
"data": {"name": "red"},
"mark": {"type": "line", "strokeWidth": 1.5, "clip": true},
"encoding": {
"x": {"field": "t", "type": "temporal",
"scale": {"type": "utc", "domain": [{"year": 2014, "month": "jan", "date": 19, "hours": 10, "minutes": 19, "utc": true}, {"year": 2014, "month": "feb", "date": 23, "hours": 15, "minutes": 18, "utc": true}]},
"axis": {"title": null, "grid": false, "domain": false, "values": [
{"year": 2014, "month": "jan", "date": 21, "hours": 0, "minutes": 0, "utc": true},
{"year": 2014, "month": "jan", "date": 23, "hours": 15, "minutes": 58, "utc": true},
{"year": 2014, "month": "jan", "date": 26, "hours": 7, "minutes": 57, "utc": true},
{"year": 2014, "month": "jan", "date": 28, "hours": 23, "minutes": 56, "utc": true},
{"year": 2014, "month": "jan", "date": 31, "hours": 15, "minutes": 55, "utc": true},
{"year": 2014, "month": "feb", "date": 3, "hours": 7, "minutes": 53, "utc": true},
{"year": 2014, "month": "feb", "date": 5, "hours": 23, "minutes": 52, "utc": true},
{"year": 2014, "month": "feb", "date": 8, "hours": 15, "minutes": 51, "utc": true},
{"year": 2014, "month": "feb", "date": 11, "hours": 7, "minutes": 50, "utc": true},
{"year": 2014, "month": "feb", "date": 13, "hours": 23, "minutes": 48, "utc": true},
{"year": 2014, "month": "feb", "date": 16, "hours": 15, "minutes": 47, "utc": true},
{"year": 2014, "month": "feb", "date": 19, "hours": 7, "minutes": 46, "utc": true},
{"year": 2014, "month": "feb", "date": 21, "hours": 23, "minutes": 45, "utc": true}],
"labelExpr": "[utcFormat(datum.value, '%b-%d-%y'), utcFormat(datum.value, '%H:%M')]",
"labelFont": "Liberation Sans", "labelFontSize": 15, "labelColor": "#222222", "labelLineHeight": 18, "labelPadding": 26, "labelOverlap": false, "labelFlush": false,
"tickSize": -13, "tickWidth": 1.5, "tickColor": "#222222"}},
"y": {"field": "v", "type": "quantitative",
"scale": {"domain": [-0.124, 4.772], "nice": false, "zero": false},
"axis": {"title": "Water Temperature (C)", "titleFont": "Liberation Sans", "titleFontSize": 24, "titleFontWeight": "normal", "titleColor": "#111111", "titlePadding": 8,
"grid": false, "domain": false, "values": [0, 0.5, 1, 1.5, 2, 2.5, 3, 3.5, 4, 4.5],
"labelExpr": "datum.value % 1 === 0 ? format(datum.value, 'd') : ''",
"labelFont": "Liberation Sans", "labelFontSize": 22, "labelColor": "#111111", "labelPadding": 4,
"tickSize": 12, "tickWidth": 1.5, "tickColor": "#222222"}},
"color": {"datum": "NF02ZM0365 - Outer Cove Brook at Clovelly Golf Course", "type": "nominal",
"scale": {"domain": ["NF02ZM0365 - Outer Cove Brook at Clovelly Golf Course", "NF02ZM0364 - Outer Cove Brook below Airport"], "range": ["#ff0000", "#0000ff"]},
"legend": {"orient": "none", "legendX": 535, "legendY": 426, "direction": "vertical", "title": null,
"symbolSize": 0, "symbolOpacity": 0, "symbolStrokeWidth": 0,
"labelFont": "Liberation Sans", "labelFontSize": 23, "labelAlign": "center", "labelLimit": 800, "rowPadding": 5,
"labelColor": {"expr": "indexof(datum.label, '0364') >= 0 ? '#0000ff' : '#ff0000'"}}}
}
},
{
"data": {"name": "blue"},
"mark": {"type": "line", "strokeWidth": 1.5, "clip": true},
"encoding": {
"x": {"field": "t", "type": "temporal"},
"y": {"field": "v", "type": "quantitative"},
"color": {"datum": "NF02ZM0364 - Outer Cove Brook below Airport", "type": "nominal"}
}
}
]
}
